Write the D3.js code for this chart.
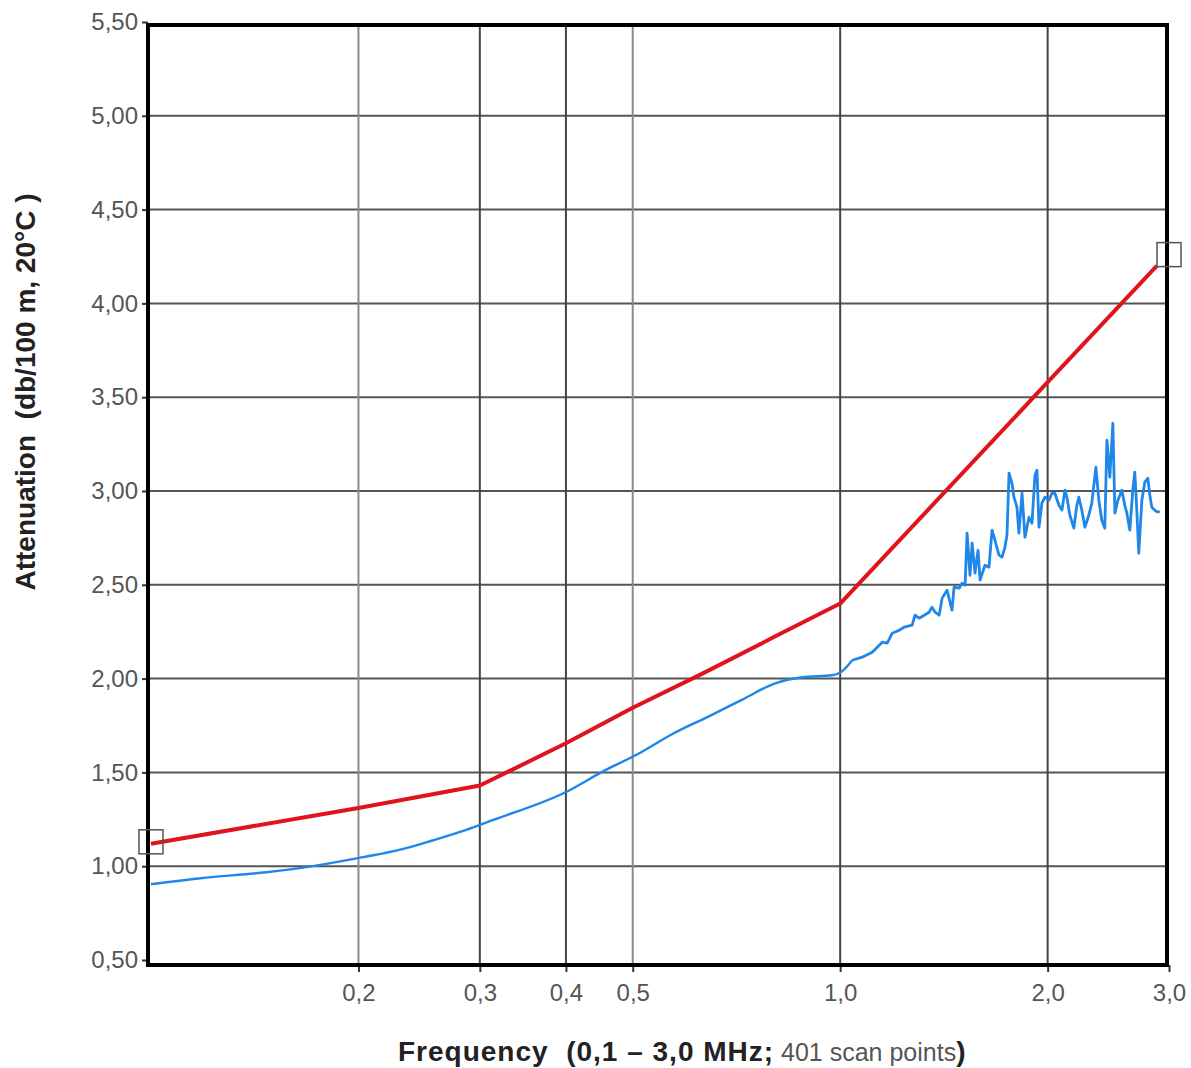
<!DOCTYPE html>
<html>
<head>
<meta charset="utf-8">
<script src="https://cdn.jsdelivr.net/npm/d3@7"></script>
<style>
  body { margin: 0; background: #fff; }
  text { font-family: "Liberation Sans", Arial, sans-serif; white-space: pre; }
</style>
</head>
<body>
<div id="chart"></div>
<script>
// Tick values
const freqTicks = [0.2, 0.3, 0.4, 0.5, 1.0, 2.0, 3.0];
const attTicks = [0.5, 1.0, 1.5, 2.0, 2.5, 3.0, 3.5, 4.0, 4.5, 5.0, 5.5];

// Red limit curve (MHz, dB/100 m)
const redFreq = [0.100, 0.200, 0.300, 0.400, 0.500, 0.630, 0.800, 1.000, 2.000, 2.880];
const redAtt  = [1.120, 1.310, 1.430, 1.655, 1.845, 2.025, 2.220, 2.400, 3.580, 4.200];

// Blue measured curve (MHz, dB/100 m), read off the scan
// first 20 points: smooth low-frequency part, the rest: noisy part
const blueFreq = [
  0.100, 0.118, 0.147, 0.168, 0.203, 0.230, 0.256, 0.286, 0.313, 0.405,
  0.450, 0.511, 0.571, 0.646, 0.721, 0.805, 0.881, 0.974, 1.007, 1.041,
  1.076, 1.113, 1.151, 1.170, 1.190, 1.218, 1.238, 1.272, 1.284, 1.302,
  1.324, 1.346, 1.359, 1.373, 1.392, 1.406, 1.429, 1.453, 1.463, 1.488,
  1.503, 1.518, 1.528, 1.543, 1.554, 1.569, 1.585, 1.596, 1.622, 1.644,
  1.661, 1.677, 1.700, 1.717, 1.734, 1.746, 1.758, 1.775, 1.787, 1.805,
  1.817, 1.836, 1.854, 1.879, 1.898, 1.917, 1.930, 1.943, 1.962, 1.982,
  2.009, 2.029, 2.049, 2.077, 2.098, 2.119, 2.133, 2.154, 2.183, 2.205,
  2.220, 2.242, 2.265, 2.295, 2.318, 2.350, 2.373, 2.397, 2.421, 2.438,
  2.462, 2.487, 2.504, 2.529, 2.563, 2.588, 2.606, 2.632, 2.658, 2.676,
  2.694, 2.712, 2.740, 2.767, 2.795, 2.814, 2.832, 2.871, 2.909
];
const blueAtt = [
  0.904, 0.936, 0.968, 0.995, 1.048, 1.088, 1.137, 1.192, 1.245, 1.405,
  1.500, 1.602, 1.705, 1.800, 1.888, 1.975, 2.007, 2.018, 2.040, 2.098,
  2.114, 2.141, 2.194, 2.189, 2.242, 2.258, 2.274, 2.285, 2.338, 2.322,
  2.338, 2.354, 2.381, 2.354, 2.338, 2.429, 2.471, 2.365, 2.487, 2.482,
  2.509, 2.498, 2.775, 2.551, 2.722, 2.562, 2.684, 2.525, 2.604, 2.594,
  2.791, 2.738, 2.658, 2.647, 2.700, 2.764, 3.095, 3.042, 2.967, 2.914,
  2.775, 2.988, 2.754, 2.860, 2.828, 3.084, 3.111, 2.807, 2.935, 2.967,
  2.951, 2.988, 2.988, 2.924, 2.898, 3.004, 2.967, 2.871, 2.802, 2.924,
  2.967, 2.898, 2.807, 2.871, 2.935, 3.127, 2.951, 2.844, 2.802, 3.271,
  3.074, 3.361, 2.882, 2.951, 3.004, 2.924, 2.882, 2.791, 3.004, 3.100,
  2.898, 2.668, 2.951, 3.047, 3.068, 2.978, 2.914, 2.892, 2.887
];
const smoothCount = 20;

// Cursor markers at both ends of the sweep
const markerFreq = [0.1, 3.0];
const markerAtt = [1.13, 4.26];

function renderChart() {
  const svg = d3.select("#chart")
    .append("svg")
    .attr("width", 1191)
    .attr("height", 1068);

  const left = 148, right = 1167, top = 25, bottom = 965;

  const x = d3.scaleLog()
    .domain([0.1, 3.0])
    .range([151, 1169]);

  const y = d3.scaleLinear()
    .domain([0.5, 5.5])
    .range([960, 22]);

  const comma = (fmt) => d => d3.format(fmt)(d).replace(".", ",");

  // Horizontal grid lines
  svg.append("g")
    .selectAll("line")
    .data(attTicks.filter(d => d > 0.5 && d < 5.5))
    .enter().append("line")
    .attr("x1", left).attr("x2", right)
    .attr("y1", d => y(d)).attr("y2", d => y(d))
    .attr("stroke", "#555")
    .attr("stroke-width", 2);

  // Vertical grid lines
  const lightLines = [0.2, 0.5];
  svg.append("g")
    .selectAll("line")
    .data(freqTicks.filter(d => d < 3.0))
    .enter().append("line")
    .attr("x1", d => x(d)).attr("x2", d => x(d))
    .attr("y1", top).attr("y2", bottom)
    .attr("stroke", d => lightLines.includes(d) ? "#8a8a8a" : "#444")
    .attr("stroke-width", 2);

  // Y axis
  const yAxis = svg.append("g")
    .attr("transform", `translate(${left}, 0)`)
    .call(d3.axisLeft(y).tickValues(attTicks).tickFormat(comma(".2f")).tickSize(6).tickPadding(4));
  yAxis.select(".domain").remove();
  yAxis.selectAll("line").attr("stroke", "#333").attr("stroke-width", 2);
  yAxis.selectAll("text")
    .attr("fill", "#555")
    .style("font-size", "24px");

  // X axis
  const xAxis = svg.append("g")
    .attr("transform", `translate(0, ${bottom})`)
    .call(d3.axisBottom(x).tickValues(freqTicks).tickFormat(comma(".1f")).tickSize(7).tickPadding(12));
  xAxis.select(".domain").remove();
  xAxis.selectAll("line").attr("stroke", "#333").attr("stroke-width", 2);
  xAxis.selectAll("text")
    .attr("fill", "#555")
    .style("font-size", "24px");

  // Curves
  const line = d3.line()
    .x(d => x(d[0]))
    .y(d => y(d[1]));

  const blue = blueFreq.map((f, i) => [f, blueAtt[i]]);

  svg.append("path")
    .datum(blue.slice(0, smoothCount))
    .attr("d", line.curve(d3.curveMonotoneX))
    .attr("fill", "none")
    .attr("stroke", "#1f86ea")
    .attr("stroke-width", 2.4);

  svg.append("path")
    .datum(blue.slice(smoothCount - 1))
    .attr("d", line.curve(d3.curveLinear))
    .attr("fill", "none")
    .attr("stroke", "#1f86ea")
    .attr("stroke-width", 2.8)
    .attr("stroke-linejoin", "round");

  svg.append("path")
    .datum(redFreq.map((f, i) => [f, redAtt[i]]))
    .attr("d", line.curve(d3.curveLinear))
    .attr("fill", "none")
    .attr("stroke", "#e0141c")
    .attr("stroke-width", 4)
    .attr("stroke-linejoin", "round");

  // Plot frame
  svg.append("rect")
    .attr("x", left).attr("y", top)
    .attr("width", right - left).attr("height", bottom - top)
    .attr("fill", "none")
    .attr("stroke", "#000")
    .attr("stroke-width", 4);

  // Cursor squares
  svg.selectAll(".marker")
    .data(markerFreq.map((f, i) => [f, markerAtt[i]]))
    .enter().append("rect")
    .attr("class", "marker")
    .attr("x", d => x(d[0]) - 12)
    .attr("y", d => y(d[1]) - 12)
    .attr("width", 24)
    .attr("height", 24)
    .attr("fill", "none")
    .attr("stroke", "#555")
    .attr("stroke-width", 1.5);

  // X axis title
  const xt = svg.append("text")
    .attr("x", 398)
    .attr("y", 1061)
    .attr("text-anchor", "start");
  xt.append("tspan")
    .style("font-weight", "bold")
    .style("font-size", "28px")
    .style("letter-spacing", "1px")
    .attr("fill", "#222")
    .text("Frequency  (0,1 – 3,0 MHz;");
  xt.append("tspan")
    .attr("fill", "#555")
    .style("font-size", "25px")
    .text(" 401 scan points");
  xt.append("tspan")
    .style("font-weight", "bold")
    .style("font-size", "28px")
    .attr("fill", "#222")
    .text(")");

  // Y axis title
  svg.append("text")
    .attr("transform", "translate(35, 392) rotate(-90)")
    .attr("text-anchor", "middle")
    .attr("fill", "#222")
    .style("font-size", "28px")
    .style("font-weight", "bold")
    .text("Attenuation  (db/100 m, 20°C )");
}

document.addEventListener('DOMContentLoaded', renderChart);
</script>
</body>
</html>
